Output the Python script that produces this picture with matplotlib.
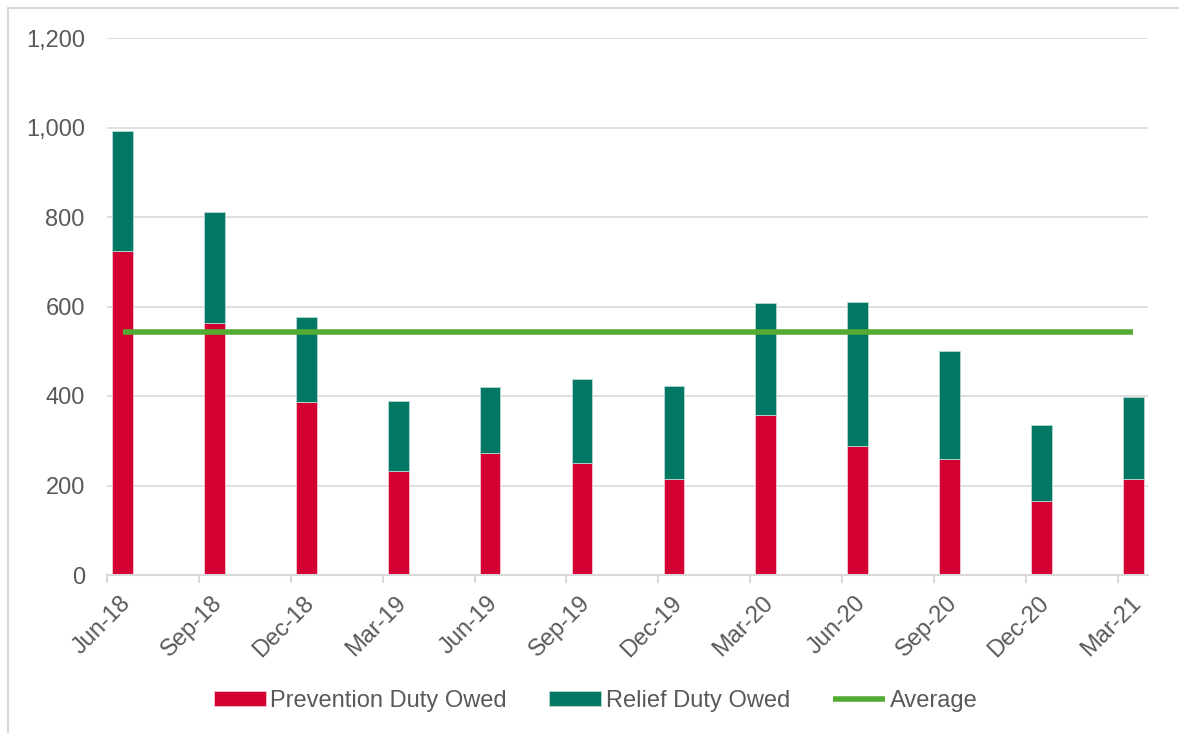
import matplotlib
matplotlib.use("Agg")
import matplotlib.pyplot as plt
import matplotlib.transforms as mtransforms
from matplotlib.patches import Rectangle
from matplotlib.ticker import FuncFormatter
import numpy as np

plt.rcParams['font.family'] = ['Liberation Sans', 'DejaVu Sans']

# Quarterly figures
quarters = ["Jun-18", "Sep-18", "Dec-18", "Mar-19", "Jun-19", "Sep-19",
            "Dec-19", "Mar-20", "Jun-20", "Sep-20", "Dec-20", "Mar-21"]
prevention = [724, 563, 387, 232, 273, 250, 215, 357, 288, 259, 165, 215]
relief = [268, 248, 190, 157, 147, 188, 207, 250, 322, 241, 170, 183]
average = [542, 542, 542, 542, 542, 542, 542, 542, 542, 542, 542, 542]

red = "#D50032"
teal = "#007864"
lime = "#54AB34"
grey_text = "#595959"
grid_col = "#D9D9D9"

fig = plt.figure(figsize=(11.79, 7.33), dpi=100)
ax = fig.add_axes([107 / 1179, (733 - 575) / 733, (1148 - 107) / 1179, (575 - 38) / 733])

x = np.arange(len(quarters))
offset = 0.058
width = 0.224
b1 = ax.bar(x + offset, prevention, width=width, align='edge', color=red,
            edgecolor="#F3C6CF", linewidth=0.6, zorder=2, label="Prevention Duty Owed")
b2 = ax.bar(x + offset, relief, width=width, align='edge', bottom=prevention, color=teal,
            edgecolor="#B7DAD3", linewidth=0.6, zorder=2, label="Relief Duty Owed")
avg_line, = ax.plot(x + offset + width / 2, average, color=lime, linewidth=4, zorder=3,
                    solid_capstyle='butt', label="Average")

ax.set_xlim(0, 11.33)
ax.set_ylim(0, 1200)
ax.set_yticks(range(0, 1201, 200))
ax.yaxis.set_major_formatter(FuncFormatter(lambda v, p: f"{int(v):,}"))
ax.grid(axis='y', color=grid_col, linewidth=1.2, zorder=0)
ax.set_axisbelow(True)

for side in ("top", "right", "left"):
    ax.spines[side].set_visible(False)
ax.spines["bottom"].set_color(grid_col)
ax.spines["bottom"].set_linewidth(1.5)

ax.set_xticks(x)
ax.set_xticklabels(quarters, rotation=45, ha='right', va='center', rotation_mode='anchor')
ax.tick_params(axis='x', length=6, width=1.5, color=grid_col, labelsize=17, pad=4)
for lbl in ax.get_xticklabels():
    lbl.set_color(grey_text)
    lbl.set_transform(lbl.get_transform() + mtransforms.ScaledTranslation(0.2, -0.11, fig.dpi_scale_trans))
ax.tick_params(axis='y', length=0, labelsize=17, labelcolor=grey_text, pad=16)

fig.legend(handles=[b1, b2, avg_line], loc='center', bbox_to_anchor=(0.505, 0.044), ncol=3,
           frameon=False, fontsize=17, labelcolor=grey_text, handlelength=2.2,
           handleheight=0.6, handletextpad=0.2, columnspacing=1.8)

# chart frame: only its top and left edges fall inside the image
fig.patches.append(Rectangle((8 / 1179, -10 / 733), 1200 / 1179, 735 / 733,
                             transform=fig.transFigure, fill=False,
                             edgecolor=grid_col, linewidth=1.5))

fig.savefig("out.png", dpi=100)
